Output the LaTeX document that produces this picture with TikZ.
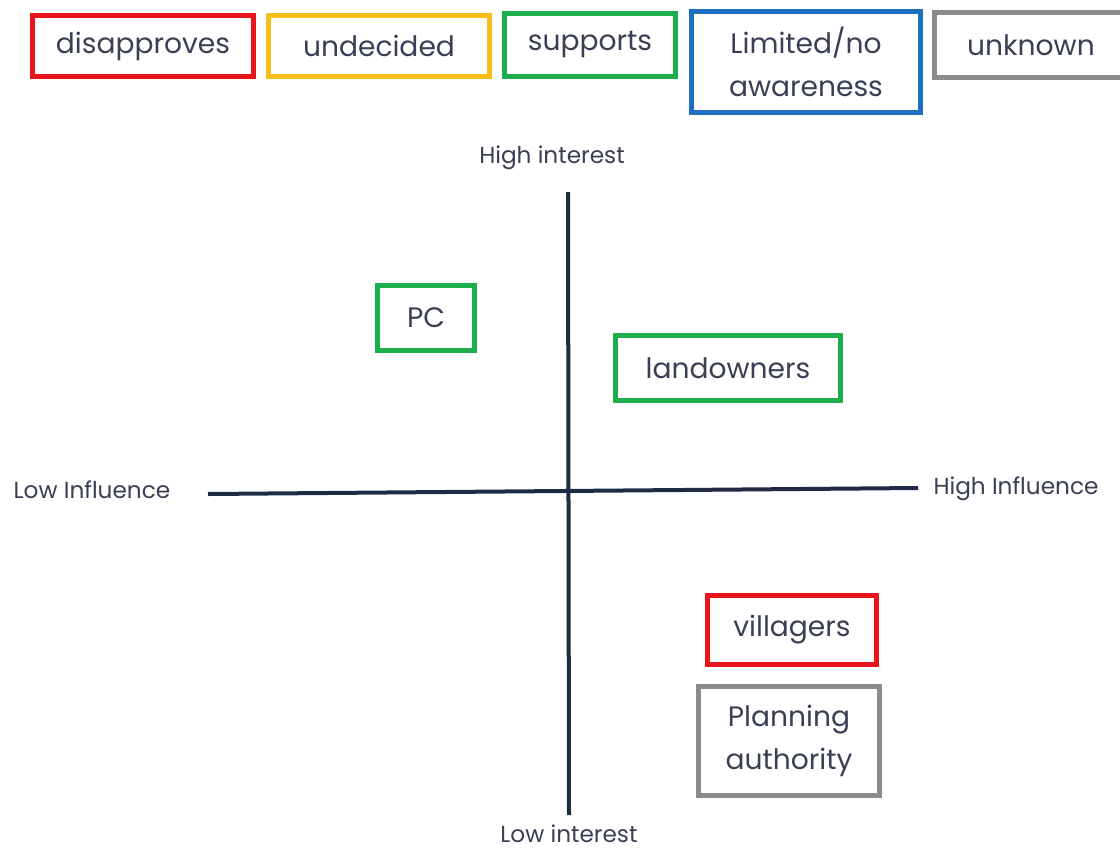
\documentclass[tikz,border=0pt]{standalone}
\usepackage{fontspec}
\setmainfont{Poppins}
\usepackage{tikz}

\definecolor{txtnavy}{HTML}{3A3F55}
\definecolor{axisnavy}{HTML}{1F2A44}
\definecolor{boxred}{HTML}{E8141B}
\definecolor{boxyellow}{HTML}{F7BE1B}
\definecolor{boxgreen}{HTML}{1DAE4C}
\definecolor{boxblue}{HTML}{1F6FC0}
\definecolor{boxgray}{HTML}{8C8C8C}

\begin{document}
\begin{tikzpicture}[x=0.025cm,y=-0.025cm,
    keybox/.style={draw,line width=0.125cm,fill=white,text=txtnavy,
      font=\fontsize{20}{31}\selectfont,align=center,inner sep=0pt},
    axislabel/.style={text=txtnavy,font=\fontsize{16.5}{20}\selectfont,inner sep=1pt},
    axisline/.style={draw=axisnavy,line width=0.1cm}]
    \useasboundingbox[fill=white] (0,0) rectangle (1120,851);
    % legend along the top
    \node [keybox,draw=boxred,minimum width=5.5cm,minimum height=1.525cm] (disapproves) at (143,46) {disapproves};
    \node [keybox,draw=boxyellow,minimum width=5.52cm,minimum height=1.525cm] (undecided) at (379,46) {undecided};
    \node [keybox,draw=boxgreen,minimum width=4.28cm,minimum height=1.55cm] (supports) at (590,45) {supports};
    \node [keybox,draw=boxblue,minimum width=5.7cm,minimum height=2.5cm] (awareness) at (806,62) {Limited/no\\awareness};
    \node [keybox,draw=boxgray,minimum width=4.83cm,minimum height=1.6cm] (unknown) at (1031,45) {unknown};
    % axes
    \coordinate (top) at (568,192);
    \coordinate (bottom) at (569,815);
    \coordinate (left) at (208,494);
    \coordinate (right) at (918,488);
    \draw [axisline] (top) -- (bottom);
    \draw [axisline] (left) -- (right);
    \node [axislabel] (highint) at (552,158) {High interest};
    \node [axislabel] (lowint) at (569,834) {Low interest};
    \node [axislabel] (lowinf) at (92,490) {Low Influence};
    \node [axislabel] (highinf) at (1016,489) {High Influence};
    % stakeholders
    \node [keybox,draw=boxgreen,minimum width=2.4cm,minimum height=1.63cm] (pc) at (426,318) {PC};
    \node [keybox,draw=boxgreen,minimum width=5.63cm,minimum height=1.63cm] (landowners) at (728,368) {landowners};
    \node [keybox,draw=boxred,minimum width=4.2cm,minimum height=1.73cm] (villagers) at (792,630) {villagers};
    \node [keybox,draw=boxgray,minimum width=4.53cm,minimum height=2.7cm] (planning) at (789,741) {Planning\\authority};
\end{tikzpicture}
\end{document}
